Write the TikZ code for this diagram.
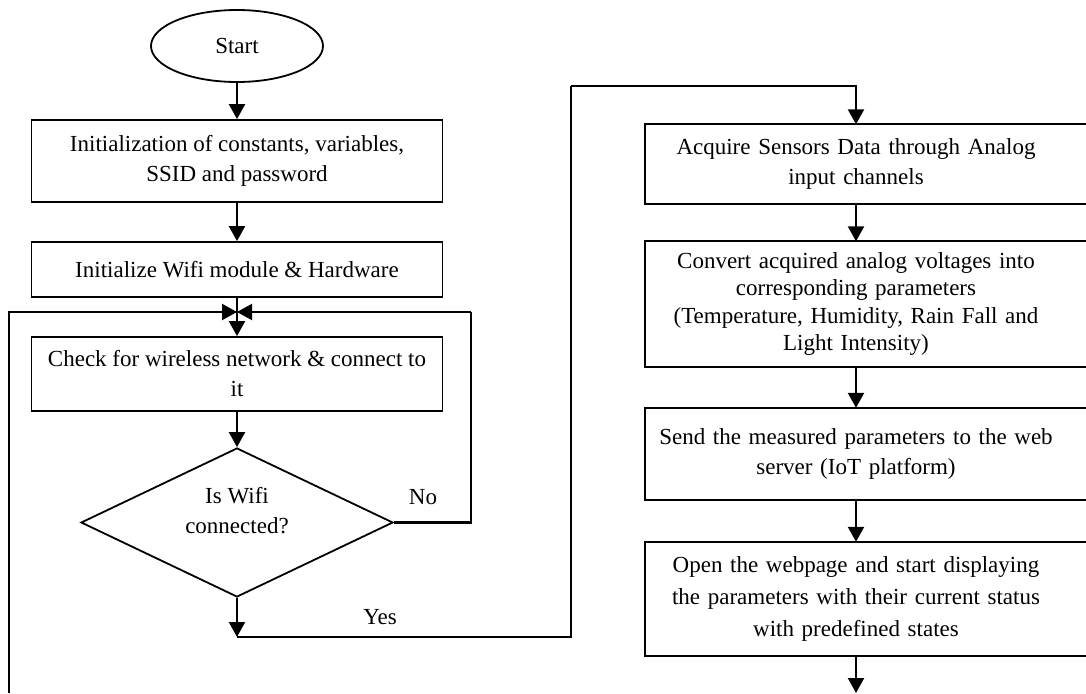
\documentclass[tikz,border=0pt]{standalone}
\usepackage{fontspec}
\setmainfont{Liberation Serif}
\usetikzlibrary{shapes.geometric,arrows.meta}

\tikzset{
    every node/.style={font=\fontsize{23pt}{30pt}\selectfont},
    boxline/.style={line width=1.8pt},
    stepbox/.style={draw, boxline, rectangle, inner sep=0pt, minimum width=411pt, align=center},
    sidebox/.style={rectangle, inner sep=0pt, minimum width=422pt, text width=412pt, align=center},
    startnode/.style={draw, boxline, ellipse, inner sep=0pt, minimum width=172pt, minimum height=72pt},
    decision/.style={draw, boxline, diamond, aspect=2, inner sep=0pt, minimum width=312pt, minimum height=149pt, align=center},
    arr/.style={line width=2.2pt, -{Triangle[length=15pt,width=16pt]}},
    flow/.style={line width=2.2pt}
}

\begin{document}
\begin{tikzpicture}[x=1pt,y=-1pt]
        \clip (0,0) rectangle (1086,693);

        % left column
        \node[startnode] (start) at (237,46) {Start};
        \node[stepbox, minimum height=82pt] (init) at (237,161) {Initialization of constants, variables,\\SSID and password};
        \node[stepbox, minimum height=55pt] (wifi) at (237,269.5) {Initialize Wifi module \& Hardware};
        \node[stepbox, minimum height=74pt] (check) at (237,374) {Check for wireless network \& connect to\\it};
        \node[decision, text depth=24pt] (dec) at (237,522.5) {Is Wifi\\connected?};

        \coordinate (join) at (237,312);
        \coordinate (loopin) at (9,693);
        \coordinate (noturn) at (471,312);
        \coordinate (yesend) at (237,637);
        \coordinate (upturn) at (571,86);

        \draw[arr] (start) -- (init);
        \draw[arr] (init) -- (wifi);
        \draw[arr] (wifi) -- (check);
        \draw[arr] (check) -- (dec);
        \draw[arr] (loopin) |- (join);
        \draw[flow] (dec.east) -| (noturn);
        \draw[arr] (noturn) -- (join);
        \node (no) at (423,497) {No};

        \draw[arr] (dec.south) -- (yesend);
        \draw[flow] (yesend) -| (upturn);
        \node (yes) at (380,617) {Yes};

        % right column
        \node[sidebox, minimum height=79pt] (acq) at (856,164) {Acquire Sensors Data through Analog\\input channels};
        \node[sidebox, minimum height=125pt, font=\fontsize{23pt}{27.5pt}\selectfont] (conv) at (856,304) {Convert acquired analog voltages into\\corresponding parameters\\(Temperature, Humidity, Rain Fall and\\Light Intensity)};
        \node[sidebox, minimum height=92pt] (send) at (856,454) {Send the measured parameters to the web\\server (IoT platform)};
        \node[sidebox, minimum height=114pt, font=\fontsize{23pt}{32pt}\selectfont] (open) at (856,599) {Open the webpage and start displaying\\the parameters with their current status\\with predefined states};
        \foreach \n in {acq,conv,send,open}
            \draw[boxline] (\n.north west) rectangle ([xshift=60pt]\n.south east);

        \coordinate (nextpage) at (856,693);

        \draw[arr] (upturn) -| (acq.north);
        \draw[arr] (acq) -- (conv);
        \draw[arr] (conv) -- (send);
        \draw[arr] (send) -- (open);
        \draw[arr] (open) -- (nextpage);

    \end{tikzpicture}
\end{document}
